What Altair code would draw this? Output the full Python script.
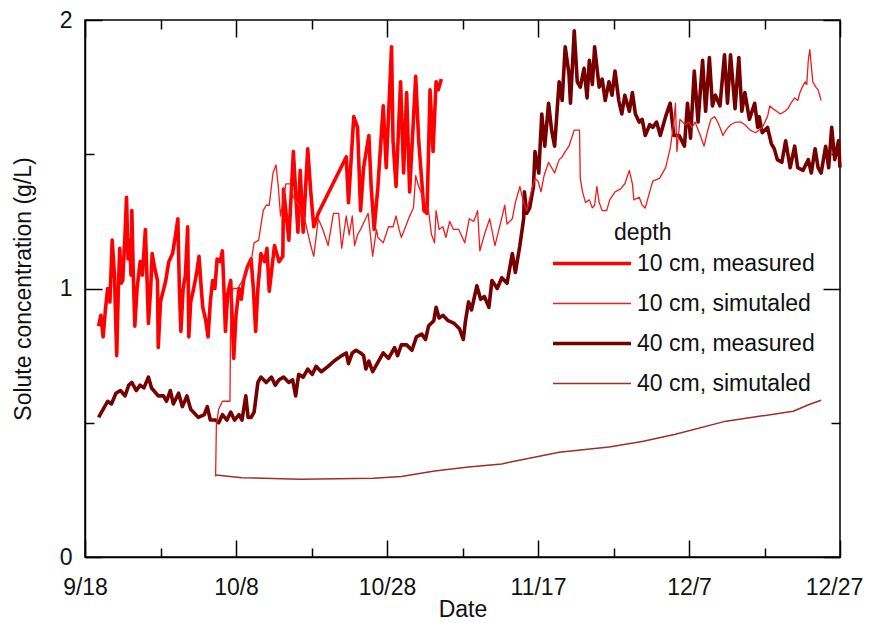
import altair as alt
import pandas as pd
from datetime import datetime, timedelta

START = datetime(2011, 9, 18)

# ---- data (day offset from 9/18, concentration g/L) ----
m10_day = [1.8, 2.1, 2.4, 2.7, 3.0, 3.3, 3.6, 3.9, 4.2, 4.4, 4.6, 4.8, 5.0, 5.3, 5.5, 5.7, 5.9, 6.1,
           6.2, 6.4, 6.6, 6.9, 7.3, 7.6, 8.0, 8.2, 8.4, 8.7, 8.9, 9.2, 9.6, 9.7, 10.0, 10.7, 11.1, 11.6,
           12.0, 12.3, 12.5, 12.7, 13.0, 13.3, 13.6, 13.75, 14.0, 14.4, 14.8, 15.1, 15.4, 15.6, 16.0,
           16.3, 16.6, 16.9, 17.2, 17.5, 17.9, 18.2, 18.4, 18.6, 18.9, 19.3, 19.7, 20.0, 20.4, 20.7,
           21.0, 21.5, 22.0, 22.3, 22.6, 22.9, 23.3, 23.8, 24.1, 24.4, 25.1, 25.7, 26.2, 26.3, 27.0,
           27.6, 28.2, 28.5, 28.9, 29.5, 29.9, 30.3, 30.9, 34.6, 34.9, 35.6, 36.1, 36.5, 36.9, 37.6,
           37.9, 38.3, 38.8, 39.5, 39.9, 40.6, 40.8, 41.2, 41.8, 42.2, 42.6, 43.0, 43.8, 44.2, 44.9,
           45.3, 45.7, 46.1, 46.5, 46.8, 47.2]
m10_val = [0.86, 0.90, 0.82, 0.92, 1.00, 0.95, 1.18, 1.05, 0.75, 0.98, 1.15, 1.02, 1.03, 1.20, 1.34,
           1.11, 1.18, 1.05, 1.29, 1.05, 0.86, 1.00, 1.10, 1.05, 1.22, 1.05, 0.87, 1.00, 1.13, 1.08,
           1.03, 0.78, 0.95, 1.03, 1.10, 1.13, 1.20, 1.26, 1.00, 0.84, 1.00, 1.05, 1.23, 0.82, 0.95,
           1.00, 1.06, 1.12, 1.00, 0.93, 0.88, 0.82, 0.95, 1.03, 1.00, 1.11, 1.10, 1.14, 1.00, 0.84,
           0.98, 1.03, 0.74, 0.90, 1.00, 0.96, 1.03, 1.08, 1.11, 1.00, 0.84, 1.00, 1.13, 1.10, 1.15,
           0.99, 1.16, 1.10, 1.12, 1.37, 1.18, 1.51, 1.21, 1.44, 1.21, 1.52, 1.36, 1.23, 1.28, 1.49,
           1.32, 1.64, 1.60, 1.29, 1.45, 1.57, 1.38, 1.22, 1.38, 1.68, 1.45, 1.90, 1.55, 1.38, 1.77,
           1.43, 1.73, 1.36, 1.79, 1.55, 1.29, 1.28, 1.74, 1.51, 1.77, 1.74, 1.78]

s10_day = [17.3, 17.4, 17.7, 18.2, 19.2, 19.3, 19.6, 20.2, 20.9, 21.3, 22.0, 22.4, 23.0, 23.6, 24.0,
           24.4, 24.9, 25.3, 25.6, 25.9, 26.6, 27.2, 27.6, 28.3, 29.0, 29.9, 30.3, 30.9, 31.5, 32.2,
           32.9, 33.6, 34.0, 34.6, 35.0, 35.4, 35.7, 36.1, 36.5, 37.5, 38.1, 38.6, 38.8, 39.5, 40.2,
           40.8, 41.2, 41.6, 41.9, 42.6, 43.0, 43.5, 43.8, 44.2, 44.9, 45.5, 45.9, 46.3, 46.5, 46.9,
           47.4, 47.8, 48.3, 48.8, 49.5, 50.3, 50.9, 51.5, 52.0, 52.3, 52.9, 53.6, 54.3, 55.0, 55.6,
           55.9, 56.6, 57.0, 57.6, 58.0, 58.5, 59.2, 59.6, 60.0, 60.4, 60.8, 61.4, 61.8, 62.2, 62.8,
           63.2, 63.6, 64.1, 64.8, 65.5, 65.6, 65.9, 66.3, 66.8, 67.2, 67.5, 67.8, 68.1, 68.5, 69.1,
           69.5, 70.2, 70.9, 71.5, 72.1, 72.5, 72.7, 73.4, 73.8, 74.2, 74.8, 75.2, 76.1, 76.9, 77.5,
           78.0, 78.2, 78.4, 78.8, 79.5, 80.0, 80.4, 80.8, 81.5, 82.0, 82.4, 82.9, 83.4, 83.8, 84.1,
           84.5, 84.9, 85.5, 86.2, 86.9, 87.4, 88.1, 88.8, 89.3, 89.7, 90.4, 90.7, 91.1, 91.6, 92.1,
           92.7, 93.1, 93.5, 94.0, 94.4, 94.7, 95.0, 95.4, 95.6, 95.8, 96.0, 96.2, 96.4, 96.8, 97.1,
           97.5]
s10_val = [0.30, 0.49, 0.55, 0.58, 0.58, 0.92, 1.00, 1.00, 1.03, 1.06, 1.10, 1.17, 1.18, 1.29, 1.31,
           1.31, 1.43, 1.46, 1.38, 1.27, 1.39, 1.39, 1.34, 1.31, 1.27, 1.16, 1.12, 1.26, 1.22, 1.16,
           1.28, 1.28, 1.15, 1.27, 1.20, 1.27, 1.16, 1.20, 1.22, 1.28, 1.12, 1.22, 1.19, 1.17, 1.23,
           1.23, 1.27, 1.22, 1.19, 1.24, 1.27, 1.30, 1.42, 1.38, 1.33, 1.29, 1.20, 1.17, 1.29, 1.22,
           1.23, 1.19, 1.25, 1.22, 1.22, 1.17, 1.26, 1.25, 1.29, 1.14, 1.20, 1.26, 1.16, 1.24, 1.31,
           1.24, 1.26, 1.32, 1.38, 1.33, 1.29, 1.37, 1.41, 1.40, 1.36, 1.42, 1.47, 1.45, 1.43, 1.48,
           1.49, 1.51, 1.53, 1.59, 1.59, 1.41, 1.36, 1.32, 1.33, 1.30, 1.31, 1.38, 1.32, 1.29, 1.29,
           1.33, 1.36, 1.37, 1.39, 1.44, 1.39, 1.33, 1.34, 1.31, 1.30, 1.36, 1.40, 1.41, 1.45, 1.52,
           1.62, 1.69, 1.51, 1.63, 1.61, 1.62, 1.60, 1.62, 1.57, 1.53, 1.58, 1.63, 1.64, 1.62, 1.60,
           1.57, 1.59, 1.61, 1.62, 1.62, 1.61, 1.59, 1.58, 1.59, 1.60, 1.64, 1.68, 1.67, 1.66, 1.65,
           1.66, 1.67, 1.69, 1.71, 1.70, 1.73, 1.75, 1.77, 1.76, 1.85, 1.89, 1.83, 1.77, 1.75, 1.74,
           1.70]

m40_day = [1.8, 2.4, 3.0, 3.5, 4.1, 4.7, 5.3, 5.8, 6.2, 6.8, 7.3, 7.8, 8.4, 8.8, 9.1, 9.7, 10.4, 10.8,
           11.3, 11.7, 12.4, 12.9, 13.5, 14.0, 15.0, 15.8, 16.2, 16.6, 17.3, 17.7, 18.2, 18.8, 19.3,
           19.8, 20.4, 20.8, 21.3, 21.6, 22.0, 22.4, 22.9, 23.3, 24.0, 24.7, 25.2, 25.7, 26.3, 27.0,
           27.5, 27.9, 28.3, 28.9, 29.5, 30.1, 30.6, 31.3, 32.2, 33.0, 34.0, 34.6, 34.9, 35.4, 35.9,
           36.5, 36.9, 37.2, 37.6, 38.1, 38.7, 39.5, 40.2, 41.0, 41.4, 41.9, 42.6, 43.3, 43.9, 44.6,
           45.1, 45.5, 46.2, 46.5, 46.9, 47.4, 48.1, 48.9, 49.6, 50.1, 50.4, 50.8, 51.2, 51.9, 52.4,
           52.9, 53.5, 53.9, 54.6, 55.2, 55.9, 56.6, 57.0, 57.6, 58.1, 58.2, 58.5, 58.9, 59.4, 59.6,
           60.1, 60.5, 60.9, 61.4, 61.8, 62.2, 62.8, 63.2, 63.6, 64.1, 64.3, 64.8, 65.2, 65.6, 66.1,
           66.5, 66.8, 67.2, 67.5, 68.1, 68.5, 68.9, 69.4, 69.8, 70.2, 70.7, 71.1, 71.5, 72.1, 72.5,
           72.9, 73.4, 73.8, 74.2, 74.8, 75.2, 75.7, 76.2, 76.9, 77.5, 78.0, 78.7, 79.4, 79.8, 80.2,
           80.7, 81.2, 81.8, 82.2, 82.7, 83.1, 83.5, 84.1, 84.7, 85.1, 85.5, 86.1, 86.6, 87.0, 87.4,
           88.0, 88.7, 89.1, 89.3, 89.7, 90.4, 90.9, 91.3, 91.7, 92.3, 92.8, 93.4, 94.0, 94.4, 95.1,
           95.8, 96.2, 96.7, 97.1, 97.5, 98.1, 98.5, 98.9, 99.3, 99.8, 100.0]
m40_val = [0.52, 0.55, 0.58, 0.57, 0.61, 0.62, 0.60, 0.64, 0.65, 0.62, 0.64, 0.63, 0.67, 0.63, 0.62,
           0.60, 0.60, 0.58, 0.62, 0.57, 0.61, 0.56, 0.60, 0.55, 0.52, 0.53, 0.56, 0.51, 0.51, 0.50,
           0.53, 0.51, 0.54, 0.51, 0.53, 0.51, 0.60, 0.52, 0.52, 0.54, 0.65, 0.67, 0.65, 0.67, 0.64,
           0.66, 0.67, 0.65, 0.66, 0.60, 0.68, 0.67, 0.70, 0.68, 0.71, 0.69, 0.71, 0.73, 0.75, 0.76,
           0.72, 0.76, 0.77, 0.76, 0.75, 0.70, 0.73, 0.69, 0.72, 0.76, 0.74, 0.78, 0.75, 0.79, 0.79,
           0.77, 0.82, 0.83, 0.81, 0.86, 0.88, 0.93, 0.89, 0.90, 0.88, 0.87, 0.85, 0.81, 0.88, 0.95,
           0.92, 1.01, 0.96, 0.97, 0.93, 1.03, 1.00, 1.04, 1.02, 1.13, 1.06, 1.16, 1.26, 1.36, 1.28,
           1.30, 1.38, 1.51, 1.43, 1.65, 1.53, 1.69, 1.59, 1.53, 1.77, 1.70, 1.90, 1.80, 1.69, 1.96,
           1.77, 1.75, 1.82, 1.71, 1.85, 1.76, 1.90, 1.75, 1.78, 1.70, 1.77, 1.72, 1.81, 1.70, 1.65,
           1.72, 1.66, 1.73, 1.65, 1.62, 1.63, 1.57, 1.61, 1.60, 1.62, 1.57, 1.64, 1.69, 1.57, 1.57,
           1.53, 1.69, 1.56, 1.81, 1.62, 1.85, 1.66, 1.86, 1.68, 1.72, 1.68, 1.87, 1.69, 1.87, 1.67,
           1.86, 1.66, 1.73, 1.63, 1.69, 1.60, 1.64, 1.58, 1.60, 1.54, 1.52, 1.48, 1.47, 1.55, 1.45,
           1.53, 1.45, 1.44, 1.48, 1.43, 1.52, 1.45, 1.43, 1.53, 1.45, 1.60, 1.48, 1.55, 1.45]

s40_day = [17.3, 20.8, 28.5, 38.2, 41.9, 46.3, 50.8, 55.2, 56.2, 62.8, 69.4, 73.8, 78.2, 84.9, 89.3,
           93.8, 96.0, 97.5]
s40_val = [0.305, 0.295, 0.29, 0.293, 0.30, 0.32, 0.335, 0.346, 0.353, 0.39, 0.41, 0.43, 0.457,
           0.506, 0.524, 0.543, 0.569, 0.584]

series_names = ["10 cm, measured", "10 cm, simutaled", "40 cm, measured", "40 cm, simutaled"]
series_colors = ["#ff0000", "#ee1c1c", "#760000", "#9c2f2a"]
series_widths = [3.6, 1.3, 3.6, 1.5]
draw_order = ["40 cm, measured", "10 cm, measured", "40 cm, simutaled", "10 cm, simutaled"]

major_labels = ["9/18", "10/8", "10/28", "11/17", "12/7", "12/27"]
tick_dates = [(9, 18), (9, 28), (10, 8), (10, 18), (10, 28), (11, 7), (11, 17), (11, 27),
              (12, 7), (12, 17), (12, 27)]
y_ticks = [0, 0.5, 1, 1.5, 2]

# ---- build table ----
frames = []
for name, days, vals in [(series_names[0], m10_day, m10_val), (series_names[1], s10_day, s10_val),
                         (series_names[2], m40_day, m40_val), (series_names[3], s40_day, s40_val)]:
    frames.append(pd.DataFrame({
        "date": [START + timedelta(days=d) for d in days],
        "value": vals,
        "series": name,
    }))
df = pd.concat(frames, ignore_index=True)

W, H = 755, 537
FONT = "Liberation Sans"
FS = 23
INK = "#111111"
major_js = "[" + ",".join("'%s'" % s for s in major_labels) + "]"
x_major_test = "indexof(%s, timeFormat(datum.value, '%%-m/%%-d')) >= 0" % major_js
y_major_test = "datum.value % 1 === 0"
last_label_test = "timeFormat(datum.value, '%%-m/%%-d') === '%s'" % major_labels[-1]
tick_vals = [alt.DateTime(year=2011, month=m, date=d) for m, d in tick_dates]

xscale = alt.Scale(domain=[alt.DateTime(year=2011, month=9, date=18),
                           alt.DateTime(year=2011, month=12, date=27)])
yscale = alt.Scale(domain=[0, 2], nice=False, zero=True)

label_style = dict(grid=False, labelFont=FONT, titleFont=FONT, labelFontSize=FS, titleFontSize=FS,
                   titleFontWeight="normal", labelColor=INK, titleColor=INK, labelFlush=False,
                   labelOverlap=False, ticks=False, tickSize=0, domainColor="black",
                   domainWidth=1.5)


def tick_axis(vals, orient, offset, test):
    return alt.Axis(values=vals, orient=orient, offset=offset, labels=False, title=None,
                    domain=False, grid=False, ticks=True, tickColor="black", tickWidth=1.5,
                    tickSize={"condition": {"test": test, "value": 17}, "value": 9})


x_bottom = alt.Axis(values=tick_vals, format="%-m/%-d",
                    labelExpr="indexof(%s, datum.label) >= 0 ? datum.label : ''" % major_js,
                    labelOffset={"condition": {"test": last_label_test, "value": -6}, "value": 0},
                    title="Date", titleY=41, labelPadding=19, **label_style)
y_left = alt.Axis(values=y_ticks, format="~g", labelExpr="%s ? datum.label : ''" % y_major_test,
                  title="Solute concentration (g/L)", titleX=-50, labelPadding=13, **label_style)

legend = alt.Legend(title="depth", orient="none", legendX=529, legendY=202,
                    direction="vertical",
                    titleFont=FONT, labelFont=FONT, titleFontSize=FS, labelFontSize=FS,
                    titleFontWeight="normal", titleColor=INK, labelColor=INK, labelLimit=400,
                    symbolType="M-72.5,0H5.5", symbolSize=4, labelOffset=0,
                    rowPadding=16, padding=0, titlePadding=7, titleAnchor="start")

base = alt.Chart(df).mark_line(strokeJoin="round").encode(
    x=alt.X("date:T", scale=xscale, axis=x_bottom),
    y=alt.Y("value:Q", scale=yscale, axis=y_left),
    color=alt.Color("series:N", scale=alt.Scale(domain=series_names, range=series_colors),
                    legend=legend),
    strokeWidth=alt.StrokeWidth("series:N",
                                scale=alt.Scale(type="ordinal", domain=series_names,
                                                range=series_widths),
                                legend=legend),
)

lines = alt.layer(*[base.transform_filter(alt.datum.series == s) for s in draw_order])

# inward ticks on the bottom and left edges
ticks_in_a = alt.Chart(df).mark_line(strokeOpacity=0).encode(
    x=alt.X("date:T", scale=xscale, axis=tick_axis(tick_vals, "top", -H, x_major_test)),
    y=alt.Y("value:Q", scale=yscale, axis=tick_axis(y_ticks, "right", -W, y_major_test)),
)
# inward ticks on the top and right edges
ticks_in_b = alt.Chart(df).mark_line(strokeOpacity=0).encode(
    x=alt.X("date:T", scale=xscale, axis=tick_axis(tick_vals, "bottom", -H, x_major_test)),
    y=alt.Y("value:Q", scale=yscale, axis=tick_axis(y_ticks, "left", -W, y_major_test)),
)

chart = alt.layer(lines, ticks_in_a, ticks_in_b).resolve_axis(
    x="independent", y="independent"
).properties(
    width=W, height=H,
    autosize=alt.AutoSizeParams(type="none"),
    padding={"left": 77, "top": 12, "right": 24, "bottom": 66},
).configure_view(stroke="black", strokeWidth=1.5)

chart.save("out.html", embed_options={"renderer": "svg", "actions": False})
